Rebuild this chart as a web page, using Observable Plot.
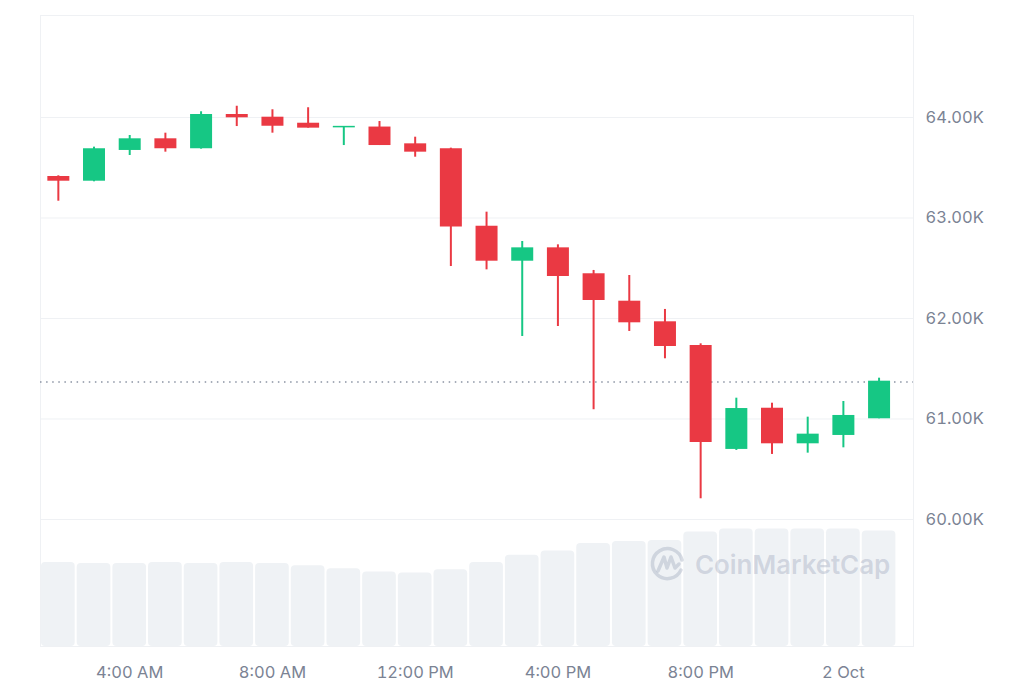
<!DOCTYPE html>
<html>
<head>
<meta charset="utf-8">
<script src="https://cdn.jsdelivr.net/npm/d3@7"></script>
<script src="https://cdn.jsdelivr.net/npm/@observablehq/plot@0.6"></script>
<style>
  html, body { margin: 0; padding: 0; background: #fff; }
  #wrap { position: relative; width: 1024px; height: 683px; overflow: hidden; }
  #wrap svg { position: absolute; left: 0; top: 0; background: transparent; }
  #wm { position: absolute; left: 648px; top: 544px; display: flex; align-items: center; gap: 7px;
        font-family: Inter, "Open Sans", sans-serif; font-weight: 600; font-size: 26px;
        color: rgba(150,160,182,0.36); letter-spacing: -0.1px; }
</style>
</head>
<body>
<div id="wrap">
  <div id="vol"></div>
  <div id="price"></div>
  <div id="wm">
    <svg width="40" height="40" viewBox="0 0 40 40" style="position:static">
      <path d="M33 26 A15 15 0 1 1 34 16" fill="none" stroke="rgba(150,160,182,0.36)" stroke-width="3.5" stroke-linecap="round"/>
      <path d="M10 27 L16 13 L19 24 L23 13 L27 24 L31 20" fill="none" stroke="rgba(150,160,182,0.36)" stroke-width="3.5" stroke-linejoin="round" stroke-linecap="round"/>
    </svg>
    <span>CoinMarketCap</span>
  </div>
</div>
<script>
// Hours since 1 Oct 00:00 (candle times)
const hours = [2,3,4,5,6,7,8,9,10,11,12,13,14,15,16,17,18,19,20,21,22,23,24,25];
const open  = [63413,63366,63672,63788,63689,64030,64003,63943,63897,63905,63738,63689,62918,62570,62703,62445,62172,61967,61731,60697,61107,60753,60836,61002];
const high  = [63420,63705,63821,63844,64057,64112,64077,64097,63910,63960,63804,63695,63058,62766,62733,62478,62428,62090,61748,61207,61157,61018,61174,61406];
const low   = [63167,63360,63622,63655,63685,63910,63844,63894,63721,63721,63605,62517,62484,61821,61920,61092,61871,61599,60206,60687,60647,60660,60713,61002];
const close = [63366,63689,63788,63689,64030,63997,63913,63894,63910,63721,63655,62910,62570,62703,62418,62179,61957,61721,60766,61104,60753,60849,61035,61376];
const volume = [0.80,0.79,0.79,0.80,0.79,0.80,0.79,0.77,0.74,0.71,0.70,0.73,0.80,0.87,0.91,0.98,1.00,1.01,1.09,1.12,1.12,1.12,1.12,1.10];
const lastPrice = 61368;

const xTicks = [4, 8, 12, 16, 20, 24];
const xTickLabels = ["4:00 AM", "8:00 AM", "12:00 PM", "4:00 PM", "8:00 PM", "2 Oct"];
const yTicks = [60000, 61000, 62000, 63000, 64000];
const yTickLabels = ["60.00K", "61.00K", "62.00K", "63.00K", "64.00K"];

const data = hours.map((t, i) => ({t, open: open[i], high: high[i], low: low[i], close: close[i], volume: volume[i]}));

const W = 1024, H = 683;
const xDomain = [1.5, 25.965];
const GREEN = "#16c784", RED = "#ea3943";
const colorOf = d => d.close >= d.open ? GREEN : RED;
const font = {fontFamily: "Inter, 'Open Sans', sans-serif", fontSize: "16.5px", color: "#7b8394", background: "transparent"};

const volPlot = Plot.plot({
  width: W, height: H,
  marginLeft: 40, marginRight: 111, marginTop: 520, marginBottom: 37,
  style: font,
  x: {domain: xDomain, axis: null},
  y: {domain: [0, 1.2], axis: null},
  marks: [
    Plot.rectY(data, {x1: d => d.t - 0.5, x2: d => d.t + 0.5, y1: 0, y2: "volume",
      fill: "#eff2f5", insetLeft: 1, insetRight: 1, rx: 4})
  ]
});
document.getElementById("vol").appendChild(volPlot);

const pricePlot = Plot.plot({
  width: W, height: H,
  marginLeft: 40, marginRight: 111, marginTop: 15, marginBottom: 37,
  style: font,
  x: {domain: xDomain, ticks: xTicks, tickFormat: v => xTickLabels[xTicks.indexOf(v)],
      tickSize: 0, tickPadding: 20, label: null},
  y: {domain: [58736, 65015], axis: "right", ticks: yTicks,
      tickFormat: v => yTickLabels[yTicks.indexOf(v)], tickSize: 0, tickPadding: 12, label: null},
  marks: [
    Plot.frame({stroke: "#eff1f4"}),
    Plot.ruleY(yTicks, {stroke: "#eff1f4", strokeWidth: 1}),
    Plot.ruleY([lastPrice], {stroke: "#8a93a3", strokeWidth: 1.5, strokeDasharray: "1.5,4.6"}),
    Plot.ruleX(data, {x: "t", y1: "low", y2: "high", stroke: colorOf, strokeWidth: 2}),
    Plot.ruleX(data, {x: "t", y1: "open", y2: d => Math.abs(d.close - d.open) < 15 ? d.open + 15 * Math.sign(d.close - d.open || 1) : d.close,
      stroke: colorOf, strokeWidth: 22, strokeLinecap: "butt"})
  ]
});
document.getElementById("price").appendChild(pricePlot);
</script>
</body>
</html>
